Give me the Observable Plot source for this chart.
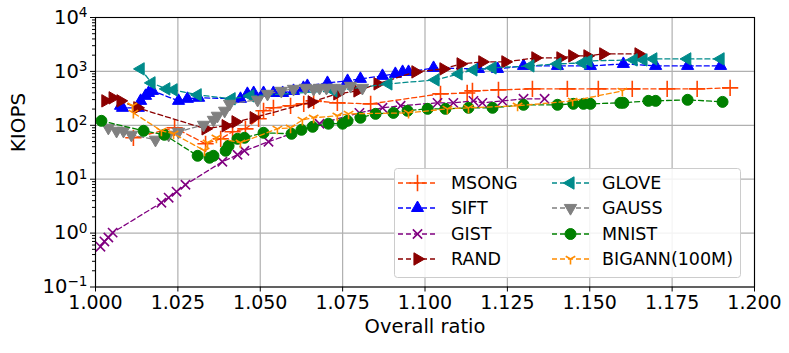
<!DOCTYPE html>
<html><head><meta charset="utf-8">
<script src="https://cdn.jsdelivr.net/npm/d3@7"></script>
<script src="https://cdn.jsdelivr.net/npm/@observablehq/plot@0.6"></script>
<style>
body{margin:0;background:#fff;}
#wrap{position:relative;width:789px;height:353px;font-family:"DejaVu Sans",sans-serif;}
</style></head><body><div id="wrap"></div>
<script>
// ---- data ----
const names = ["MSONG","SIFT","GIST","RAND","GLOVE","GAUSS","MNIST","BIGANN(100M)"];
const xTicks = [1.000,1.025,1.050,1.075,1.100,1.125,1.150,1.175,1.200];
const yTicks = [0.1,1,10,100,1000,10000];
const yTickLabels = ["10^−1","10^0","10^1","10^2","10^3","10^4"];

const msongX = [1.0115,1.0240,1.0334,1.0380,1.0416,1.0455,1.0495,1.0510,1.0540,1.0592,1.0632,1.0662,1.0734,1.0835,1.1047,1.1128,1.1144,1.1223,1.1326,1.1432,1.1526,1.1629,1.1735,1.1826,1.1926];
const msongY = [58.7,90,45.4,56.2,75.8,86,132,186,211,230,250,284,261,250,383,398,435,454,474,474,474,474,474,474,495];

const siftX = [1.0076,1.0082,1.0130,1.0137,1.0152,1.0161,1.0173,1.0252,1.0279,1.0313,1.0440,1.0461,1.0480,1.0510,1.0540,1.0568,1.0601,1.0631,1.0643,1.0704,1.0765,1.0804,1.0871,1.0910,1.0932,1.0950,1.1026,1.1162,1.1220,1.1299,1.1402,1.1502,1.1602,1.1700,1.1797,1.1897];
const siftY = [230,211,211,284,352,398,435,284,310,324,310,383,398,398,398,398,435,495,538,612,667,727,826,899,979,979,1161,1111,1111,1265,1265,1265,1377,1265,1265,1265];

const gistX = [1.0015,1.0027,1.0039,1.0052,1.0200,1.0222,1.0246,1.0273,1.0385,1.0431,1.0452,1.0525,1.0680,1.0801,1.0871,1.0926,1.1038,1.1086,1.1147,1.1174,1.1235,1.1299,1.1363];
const gistY = [0.56,0.70,0.83,1.02,3.67,4.54,5.87,7.9,21.1,28.4,33.7,49.5,107,170,211,230,261,261,284,261,284,310,310];

const randX = [1.0030,1.0052,1.0076,1.0127,1.0334,1.0395,1.0425,1.0480,1.0656,1.0734,1.0795,1.0856,1.0971,1.1056,1.1108,1.1174,1.1244,1.1335,1.1411,1.1447,1.1493,1.1541,1.1648];
const randY = [284,323,284,211,86,98,116,138,272,383,435,587,979,1112,1377,1500,1500,1778,1778,1936,1936,2109,2109];

const gloveX = [1.0137,1.0170,1.0215,1.0237,1.0310,1.0413,1.0470,1.0722,1.0889,1.1032,1.1102,1.1147,1.1205,1.1320,1.1402,1.1478,1.1496,1.1633,1.1663,1.1693,1.1796,1.1897];
const gloveY = [1112,612,474,454,367,310,352,435,587,696,899,1066,1161,1265,1377,1437,1565,1634,1634,1704,1704,1704];

const gaussX = [1.0039,1.0064,1.0085,1.0109,1.0182,1.0222,1.0252,1.0328,1.0358,1.0370,1.0392,1.0407,1.0492,1.0522,1.0564,1.0601,1.0637,1.0662,1.0680,1.0701,1.0725,1.0747,1.0774,1.0810];
const gaussY = [90,79,79,66.7,53.9,66.7,75.8,102,126,150,186,250,297,383,435,474,495,474,495,495,495,474,538,495];

const mnistX = [1.0018,1.0146,1.0209,1.0310,1.0346,1.0358,1.0395,1.0404,1.0431,1.0452,1.0510,1.0595,1.0625,1.0659,1.0707,1.0750,1.0765,1.0804,1.0850,1.0904,1.0947,1.1008,1.1062,1.1132,1.1205,1.1299,1.1402,1.1450,1.1481,1.1502,1.1593,1.1602,1.1678,1.1700,1.1797,1.1903];
const mnistY = [121,79,66.7,27.2,25,27.2,33.7,41.7,56.2,58.7,72.6,69.6,82.5,93.8,107,107,121,138,163,170,186,202,202,211,211,240,240,250,250,250,261,261,284,284,297,272];

const bigannX = [1.0112,1.0115,1.0200,1.0237,1.0331,1.0340,1.0367,1.0440,1.0552,1.0592,1.0628,1.0662,1.0734,1.0768,1.0950,1.1068,1.1132,1.1281,1.1448,1.1599];
const bigannY = [230,170,79,69.6,33.7,47.4,58.7,47.4,86,90,126,138,150,163,170,202,211,230,284,435];

// ---- styles ----
const triDown = {draw(ctx, size){ const r = Math.sqrt(size/Math.PI);
  ctx.moveTo(0,0); ctx.lineTo(0,r);
  ctx.moveTo(0,0); ctx.lineTo(-r*0.866,-r*0.5);
  ctx.moveTo(0,0); ctx.lineTo(r*0.866,-r*0.5);}};
const styles = [
  {color:"#ff4500", symbol:"plus", r:5.3, rotate:0, filled:false, sw:1.6},
  {color:"#0000ff", symbol:"triangle", r:4.5, rotate:0, filled:true, sw:1},
  {color:"#800080", symbol:"times", r:4.3, rotate:0, filled:false, sw:1.6},
  {color:"#8b0000", symbol:"triangle", r:4.6, rotate:90, filled:true, sw:1},
  {color:"#008b8b", symbol:"triangle", r:4.6, rotate:-90, filled:true, sw:1},
  {color:"#808080", symbol:"triangle", r:4.6, rotate:180, filled:true, sw:1},
  {color:"#008000", symbol:"circle", r:5.5, rotate:0, filled:true, sw:1},
  {color:"#ff8c00", symbol:triDown, r:5.5, rotate:0, filled:false, sw:1.6}
];
const XS = [msongX,siftX,gistX,randX,gloveX,gaussX,mnistX,bigannX];
const YS = [msongY,siftY,gistY,randY,gloveY,gaussY,mnistY,bigannY];

const series = names.map((n,i)=>({name:n, data: XS[i].map((x,j)=>({x, y:YS[i][j]})), ...styles[i]}));

const minorY = [];
for (let k=-1;k<=3;k++) for (let m=2;m<=9;m++) minorY.push(m*Math.pow(10,k));

const FONT = 19;
const plot = Plot.plot({
  width: 789, height: 353,
  marginLeft: 95, marginRight: 35, marginTop: 17, marginBottom: 66.5,
  style: {fontFamily: "DejaVu Sans, sans-serif", fontSize: FONT+"px", color:"#000", background:"#fff"},
  x: {domain: [1.0, 1.2]},
  y: {type: "log", domain: [0.1, 10000]},
  marks: [
    Plot.gridX(xTicks, {stroke:"#b0b0b0", strokeOpacity:1, strokeWidth:1.2}),
    Plot.gridY(yTicks, {stroke:"#b0b0b0", strokeOpacity:1, strokeWidth:1.2}),
    ...series.flatMap(s => [
      Plot.line(s.data, {x:"x", y:"y", stroke:s.color, strokeWidth:1.3, strokeDasharray:"5,3"}),
      Plot.dot(s.data, {x:"x", y:"y", symbol:s.symbol, r:s.r, rotate:s.rotate,
        fill: s.filled ? s.color : "none", stroke:s.color, strokeWidth:s.sw})
    ]),
    Plot.frame({stroke:"#000", strokeWidth:1.1}),
    Plot.axisX({ticks: xTicks, tickFormat: d3.format(".3f"), tickSize: 5, tickPadding: 3, fontSize: FONT, label: null}),
    Plot.axisY({ticks: yTicks, tickFormat: (d,i) => yTickLabels[yTicks.indexOf(d)], tickSize: 5, tickPadding: 3, fontSize: 19.5, label: null}),
    Plot.axisY({ticks: minorY, tickFormat: () => "", tickSize: 3, label: null}),
    Plot.text(["Overall ratio"], {frameAnchor:"bottom", dy: 46, fontSize: 19.5}),
    Plot.text(["KIOPS"], {frameAnchor:"left", dx: -77, rotate: -90, fontSize: 20})
  ]
});
document.getElementById("wrap").appendChild(plot);

// superscript the log tick labels
d3.select(plot).selectAll("text").each(function(){
  const t = this.textContent;
  const m = /^10\^(.+)$/.exec(t);
  if (!m) return;
  const el = d3.select(this);
  el.text("10");
  el.append("tspan").attr("dy","-0.5em").attr("font-size","0.7em").text(m[1]);
});

// ---- legend (overlay) ----
const lg = d3.select("#wrap").append("svg")
  .attr("width",350).attr("height",113)
  .style("position","absolute").style("left","393px").style("top","167px")
  .style("font-family","DejaVu Sans, sans-serif");
lg.append("rect").attr("x",1.5).attr("y",1.5).attr("width",346).attr("height",109).attr("rx",3)
  .attr("fill","#fff").attr("fill-opacity",0.85).attr("stroke","#cccccc").attr("stroke-width",1);
const rowsY = [16,41,67,92];
const cols = [{x0:5,x1:44,mx:24.5,tx:58},{x0:159,x1:196,mx:177.5,tx:209}];
series.forEach((s,i)=>{
  const c = cols[Math.floor(i/4)], y = rowsY[i%4];
  lg.append("line").attr("x1",c.x0).attr("x2",c.x1).attr("y1",y).attr("y2",y)
    .attr("stroke",s.color).attr("stroke-width",1.3).attr("stroke-dasharray","5,3");
  const symType = typeof s.symbol === "string"
    ? ({plus:d3.symbolPlus, triangle:d3.symbolTriangle, times:d3.symbolTimes, circle:d3.symbolCircle})[s.symbol]
    : s.symbol;
  lg.append("path").attr("d", d3.symbol(symType, Math.PI*s.r*s.r)())
    .attr("transform",`translate(${c.mx},${y}) rotate(${s.rotate})`)
    .attr("fill", s.filled ? s.color : "none").attr("stroke", s.color).attr("stroke-width", s.sw);
  lg.append("text").attr("x",c.tx).attr("y",y).attr("dy","0.35em")
    .attr("font-size","17.5px").attr("fill","#000").text(s.name);
});
</script></body></html>
